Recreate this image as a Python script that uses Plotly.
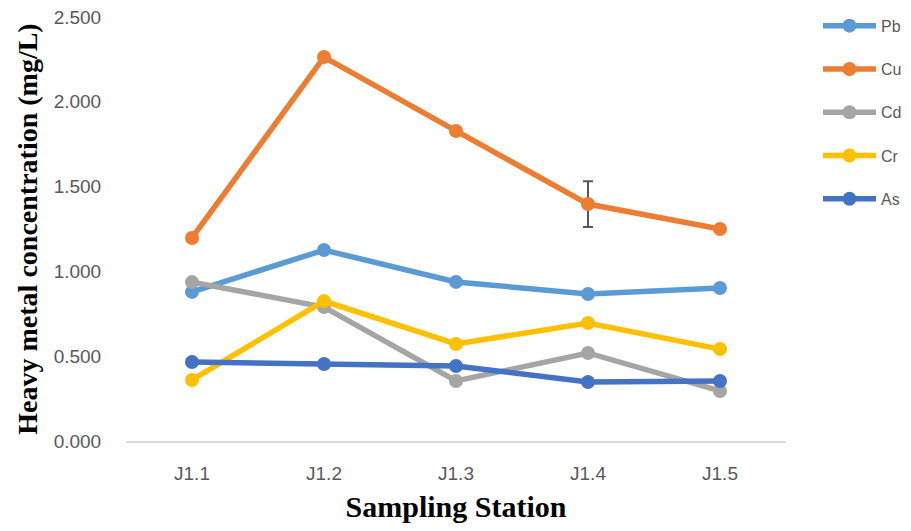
import plotly.graph_objects as go

stations = ["J1.1", "J1.2", "J1.3", "J1.4", "J1.5"]
pb = [0.879, 1.126, 0.938, 0.867, 0.902]
cu = [1.197, 2.264, 1.828, 1.397, 1.250]
cd = [0.937, 0.790, 0.354, 0.519, 0.295]
cr = [0.360, 0.825, 0.572, 0.696, 0.542]
as_ = [0.466, 0.454, 0.442, 0.348, 0.354]
cu_err_station = "J1.4"
cu_err_value = 1.397
cu_err = 0.135
y_ticks = [0, 0.5, 1.0, 1.5, 2.0, 2.5]

series = [("Pb", pb, "#5B9BD5"), ("Cu", cu, "#ED7D31"), ("Cd", cd, "#A5A5A5"),
          ("Cr", cr, "#FFC000"), ("As", as_, "#4472C4")]

fig = go.Figure()
fig.add_trace(go.Scatter(
    x=[cu_err_station], y=[cu_err_value], mode="markers",
    marker=dict(size=1, color="rgba(0,0,0,0)"), showlegend=False, hoverinfo="skip",
    error_y=dict(type="data", array=[cu_err], color="#595959", thickness=2, width=5)))
for i, (name, vals, col) in enumerate(series):
    fig.add_trace(go.Scatter(
        x=stations, y=vals, name=name, mode="lines+markers", legendgroup=f"g{i}",
        line=dict(color=col, width=5.5), marker=dict(color=col, size=14)))

fig.update_layout(
    width=895, height=515,
    margin=dict(l=118, r=117, t=9, b=82, autoexpand=False),
    paper_bgcolor="white", plot_bgcolor="white",
    font=dict(family="Liberation Sans", color="#595959", size=19),
    showlegend=True,
    legend=dict(x=1.0485, y=1.0195, xanchor="left", yanchor="top", itemwidth=53,
                tracegroupgap=19.5, font=dict(size=16, color="#595959"), bgcolor="rgba(0,0,0,0)"),
    xaxis=dict(type="category", categoryorder="array", categoryarray=stations, range=[-0.5, 4.5],
               showgrid=False, showline=True, linecolor="#D9D9D9", linewidth=1.5,
               ticks="outside", ticklen=14, tickcolor="rgba(0,0,0,0)", automargin=False,
               title=dict(text="Sampling Station", standoff=20,
                          font=dict(family="Liberation Serif", size=30, color="black", weight="bold"))),
    yaxis=dict(range=[0, 2.5], tickvals=y_ticks, tickformat=".3f", showgrid=False, zeroline=False,
               showline=False, ticks="outside", ticklen=20, tickcolor="rgba(0,0,0,0)", automargin=False,
               ticklabeloverflow="allow",
               title=dict(text="Heavy metal concentration (mg/L)", standoff=7,
                          font=dict(family="Liberation Serif", size=28, color="black", weight="bold"))),
)
fig.write_html("out.html")
